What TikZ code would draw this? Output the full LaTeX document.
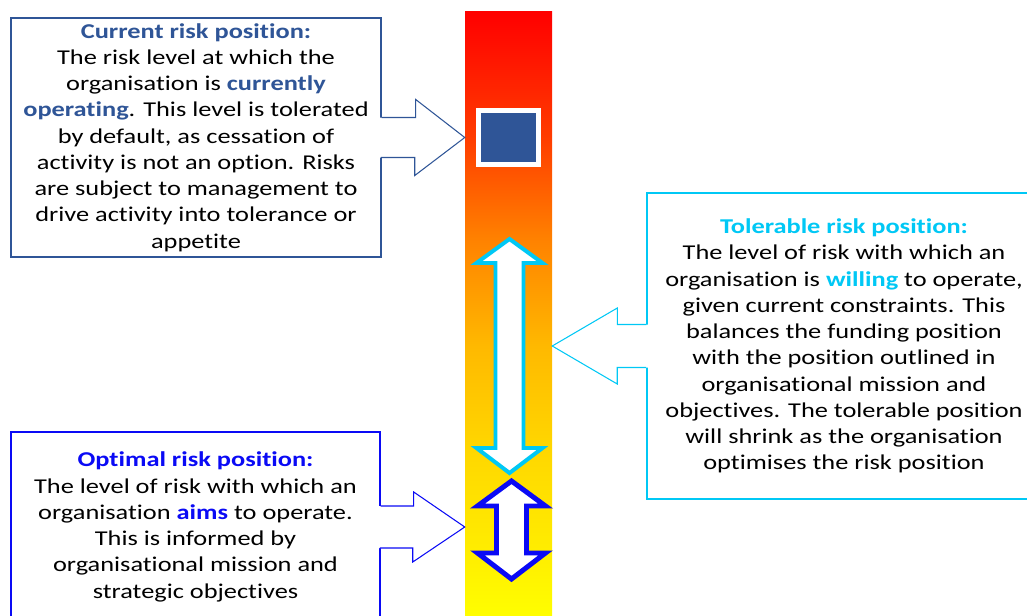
\documentclass[tikz,border=0pt]{standalone}
\usepackage{fontspec}
\setmainfont[FakeStretch=1.25, Ligatures=NoCommon]{Carlito}
\usetikzlibrary{calc}

\definecolor{curblue}{RGB}{47,85,151}
\definecolor{tolcyan}{RGB}{0,200,245}
\definecolor{optblue}{RGB}{10,10,245}
\definecolor{barA}{RGB}{255,232,0}
\definecolor{barB}{RGB}{255,215,0}
\definecolor{barC}{RGB}{255,185,0}
\definecolor{barD}{RGB}{255,130,0}
\definecolor{barE}{RGB}{255,60,0}

% red at the top, yellow at the bottom
\pgfdeclareverticalshading{riskbar}{100bp}{
    color(0bp)=(yellow); color(25bp)=(yellow);
    color(32.4bp)=(barA); color(39bp)=(barB);
    color(47.5bp)=(barC); color(56.25bp)=(barD);
    color(64.7bp)=(barE); color(75bp)=(red); color(100bp)=(red)
}

\tikzset{
    infobox/.style={
        draw, line width=1.2pt, fill=white, align=center, inner sep=0pt,
        font=\fontsize{18}{22.4}\selectfont
    },
    callout fill/.style={fill=white},
    callout line/.style={line width=0.9pt, line join=miter},
    range arrow/.style={fill=white, line join=miter}
}

\begin{document}
\begin{tikzpicture}[x=0.03cm, y=-0.03cm]
    \clip (0,0) rectangle (1027,616);

    % the risk scale
    \node[shading=riskbar, minimum width=2.61cm, minimum height=18.24cm,
        inner sep=0pt] (bar) at (508.5,316) {};
    \node[fill=curblue, draw=white, line width=4.25pt, minimum width=1.8cm,
        minimum height=1.62cm, inner sep=0pt] (pos) at (508.5,137.5) {};

    % tolerable range
    \draw[range arrow, draw=tolcyan, line width=3.4pt]
        (509.5,239) -- (542.5,263) -- (523.5,263) -- (523.5,448)
        -- (542.5,448) -- (509.5,473) -- (476.5,448) -- (495.5,448)
        -- (495.5,263) -- (476.5,263) -- cycle;
    % optimal range
    \draw[range arrow, draw=optblue, line width=4.25pt]
        (511.5,481) -- (545.5,506) -- (526.5,506) -- (526.5,553)
        -- (545.5,553) -- (511.5,579) -- (477.5,553) -- (496.5,553)
        -- (496.5,506) -- (477.5,506) -- cycle;

    \node[infobox, draw=curblue, minimum width=11.1cm, minimum height=7.17cm]
        (cur) at (196,137.5) {%
        \textcolor{curblue}{\textbf{Current risk position:}}\\
        The risk level at which the\\
        organisation is \textcolor{curblue}{\textbf{currently}}\\
        \textcolor{curblue}{\textbf{operating}}. This level is tolerated\\
        by default, as cessation of\\
        activity is not an option. Risks\\
        are subject to management to\\
        drive activity into tolerance or\\
        appetite};

    \node[infobox, draw=tolcyan, minimum width=11.82cm, minimum height=9.18cm]
        (tol) at (844,346) {%
        \textcolor{tolcyan}{\textbf{Tolerable risk position:}}\\
        The level of risk with which an\\
        organisation is \textcolor{tolcyan}{\textbf{willing}} to operate,\\
        given current constraints. This\\
        balances the funding position\\
        with the position outlined in\\
        organisational mission and\\
        objectives. The tolerable position\\
        will shrink as the organisation\\
        optimises the risk position};

    \node[infobox, draw=optblue, minimum width=11.07cm, minimum height=5.7cm]
        (opt) at (195.5,527) {%
        \textcolor{optblue}{\textbf{Optimal risk position:}}\\
        The level of risk with which an\\
        organisation \textcolor{optblue}{\textbf{aims}} to operate.\\
        This is informed by\\
        organisational mission and\\
        strategic objectives};

    % block arrows from the boxes onto the scale
    \fill[callout fill] ($(cur.east)+(-2,-20)$) -- ++(36,0) -- ++(0,-18)
        -- (cur.east -| bar.west) -- ++(-50,38) -- ++(0,-18) -- ++(-36,0) -- cycle;
    \draw[callout line, curblue] ($(cur.east)+(0,-20)$) -- ++(34,0) -- ++(0,-18)
        -- (cur.east -| bar.west) -- ++(-50,38) -- ++(0,-18) -- ++(-34,0);

    \fill[callout fill] ($(tol.west)+(2,-21.5)$) -- ++(-31,0) -- ++(0,-16.5)
        -- (tol.west -| bar.east) -- ++(65,38) -- ++(0,-16.5) -- ++(31,0) -- cycle;
    \draw[callout line, tolcyan] ($(tol.west)+(0,-21.5)$) -- ++(-29,0) -- ++(0,-16.5)
        -- (tol.west -| bar.east) -- ++(65,38) -- ++(0,-16.5) -- ++(29,0);

    \fill[callout fill] ($(opt.east)+(-2,-21)$) -- ++(35,0) -- ++(0,-14)
        -- (opt.east -| bar.west) -- ++(-52,35) -- ++(0,-14) -- ++(-35,0) -- cycle;
    \draw[callout line, optblue] ($(opt.east)+(0,-21)$) -- ++(33,0) -- ++(0,-14)
        -- (opt.east -| bar.west) -- ++(-52,35) -- ++(0,-14) -- ++(-33,0);
\end{tikzpicture}
\end{document}
